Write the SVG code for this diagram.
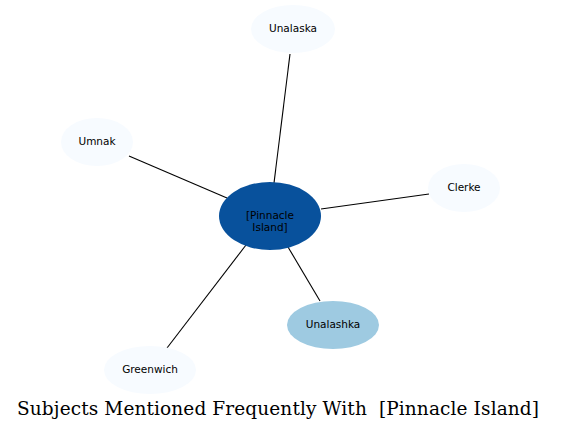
<svg xmlns="http://www.w3.org/2000/svg" width="561" height="431" viewBox="0 0 561 431">
<style>
.n text{font-family:"DejaVu Sans",sans-serif;font-size:10.5px;text-anchor:middle;fill:#000}
.light{fill:#f7fbff}
.e line{stroke:#000;stroke-width:1.1}
.title{font-family:"DejaVu Serif",serif;font-size:18.5px;fill:#000;white-space:pre}
</style>
<rect width="561" height="431" fill="#fff"/>
<g id="edges" class="e">
<line x1="274" y1="183" x2="290" y2="54"/>
<line x1="227" y1="198" x2="129" y2="156"/>
<line x1="321" y1="209" x2="429" y2="194"/>
<line x1="288" y1="247" x2="320" y2="301"/>
<line x1="246" y1="245" x2="167" y2="348"/>
</g>
<g id="center" class="n"><ellipse cx="270" cy="216" rx="51" ry="34" fill="#08519c"/><text x="270" y="219">[Pinnacle</text><text x="270" y="231">Island]</text></g>
<g id="unalaska" class="n"><ellipse class="light" cx="293" cy="29" rx="42" ry="24"/><text x="293" y="32">Unalaska</text></g>
<g id="umnak" class="n"><ellipse class="light" cx="97" cy="142" rx="36" ry="24"/><text x="97" y="145">Umnak</text></g>
<g id="clerke" class="n"><ellipse class="light" cx="464" cy="188" rx="36" ry="24"/><text x="464" y="191">Clerke</text></g>
<g id="unalashka" class="n"><ellipse cx="333" cy="325" rx="46" ry="24" fill="#9ecae1"/><text x="333" y="328">Unalashka</text></g>
<g id="greenwich" class="n"><ellipse class="light" cx="150" cy="370" rx="46" ry="24"/><text x="150" y="373">Greenwich</text></g>
<text class="title" x="17" y="415" textLength="522" lengthAdjust="spacing" xml:space="preserve">Subjects Mentioned Frequently With  [Pinnacle Island]</text>
</svg>
